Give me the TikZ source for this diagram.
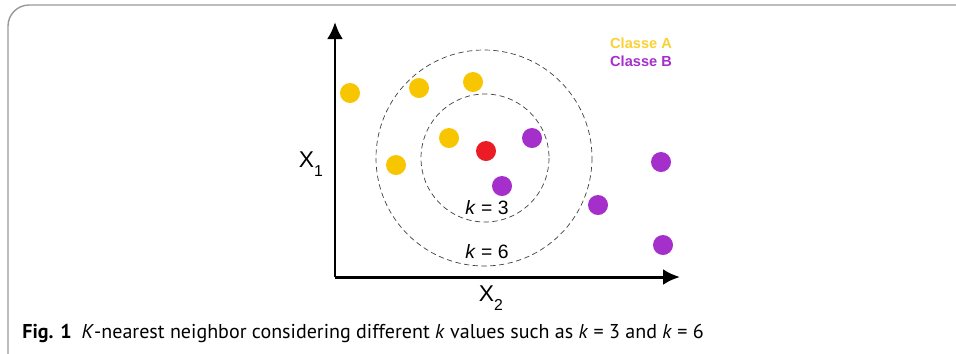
\documentclass[tikz,border=0pt]{standalone}
\usepackage{fontspec}
\setmainfont{Liberation Sans}
\newfontfamily\capfont{PT Sans}
\usepackage{tikz}
\usetikzlibrary{arrows.meta}

\definecolor{classA}{HTML}{F7C600}
\definecolor{classB}{HTML}{A42FCB}
\definecolor{query}{HTML}{EC1C24}

\begin{document}
\begin{tikzpicture}[x=0.02cm, y=-0.02cm,
    axis/.style={line width=1.7pt, -{Latex[length=3.4mm, width=3.2mm]}},
    ring/.style={densely dashed, thin, black!75}]
    \useasboundingbox (0, 0) rectangle (956, 353);
    \clip (0, 0) rectangle (956, 353);

    % Frame of the figure
    \draw[gray!80, line width=0.8pt, rounded corners=12pt] (8, 400) -- (8, 5) -- (1000, 5);

    % Axes
    \coordinate (origin) at (335, 277);
    \coordinate (ytip) at (335, 22);
    \coordinate (xtip) at (680, 277);
    \draw[axis] (origin) -- (ytip);
    \draw[axis] (origin) -- (xtip);
    \node (xone) at (311, 164) {\fontsize{13}{13}\selectfont X\raisebox{-0.7ex}{\fontsize{9}{9}\selectfont 1}};
    \node (xtwo) at (491, 298) {\fontsize{13}{13}\selectfont X\raisebox{-0.7ex}{\fontsize{9}{9}\selectfont 2}};

    % Neighbourhoods for k = 3 and k = 6
    \draw[ring] (485, 158) circle (64);
    \draw[ring] (484, 158) circle (108);
    \node (kthree) at (487, 208) {\fontsize{11}{11}\selectfont \textit{k} = 3};
    \node (ksix) at (487, 252) {\fontsize{11}{11}\selectfont \textit{k} = 6};

    % Class A points
    \foreach \x/\y in {350/93, 419/88, 473/82, 449/138, 396/165} {
        \fill[classA] (\x, \y) circle (10);
    }

    % Class B points
    \foreach \x/\y in {532/138, 502/186, 598/205, 661/162, 663/245} {
        \fill[classB] (\x, \y) circle (10);
    }

    % Point to classify
    \fill[query] (486, 151) circle (10);

    % Legend
    \node[classA!80, font=\bfseries\fontsize{8.3}{8.3}\selectfont, anchor=west] (legA) at (604, 43) {Classe A};
    \node[classB, font=\bfseries\fontsize{8.3}{8.3}\selectfont, anchor=west] (legB) at (604, 61) {Classe B};

    % Caption
    \node[anchor=west, inner sep=0pt, font=\capfont\fontsize{11.4}{11.4}\selectfont] (caption) at (22, 333)
        {\textbf{Fig. 1}\enspace\textit{K}-nearest neighbor considering different \textit{k} values such as \textit{k}~=~3 and \textit{k}~=~6};
\end{tikzpicture}
\end{document}
